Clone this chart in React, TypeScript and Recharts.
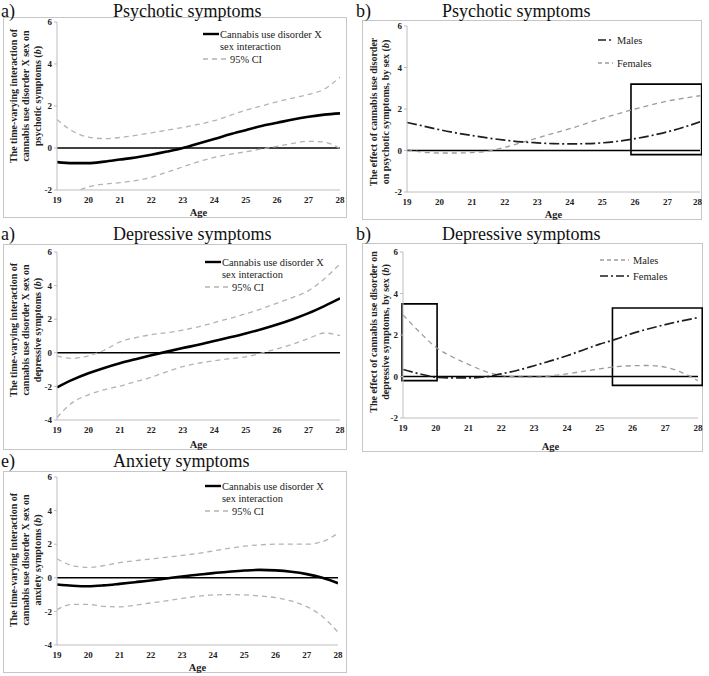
import React from "react";
import { LineChart, Line, XAxis, YAxis, ReferenceLine, ReferenceArea } from "recharts";

const FONT = "Liberation Serif, Times New Roman, Tinos, DejaVu Serif, serif";

const ages = [19, 19.5, 20, 20.5, 21, 21.5, 22, 22.5, 23, 23.5, 24, 24.5, 25, 25.5, 26, 26.5, 27, 27.5, 28];
const xTicks = [19, 20, 21, 22, 23, 24, 25, 26, 27, 28];
const ticksPsy = [-2, 0, 2, 4, 6];
const ticksDep = [-4, -2, 0, 2, 4, 6];

// a) psychotic symptoms: interaction + 95% CI
const psyInteraction = [-0.67, -0.72, -0.72, -0.65, -0.55, -0.45, -0.32, -0.17, 0.0, 0.22, 0.43, 0.65, 0.85, 1.05, 1.2, 1.36, 1.49, 1.59, 1.65];
const psyUpper = [1.36, 0.8, 0.52, 0.45, 0.5, 0.6, 0.72, 0.85, 0.98, 1.12, 1.3, 1.55, 1.8, 2.0, 2.2, 2.38, 2.55, 2.8, 3.38];
const psyLower = [-2.6, -2.15, -1.85, -1.72, -1.65, -1.55, -1.4, -1.15, -0.9, -0.65, -0.45, -0.3, -0.18, -0.05, 0.08, 0.22, 0.32, 0.28, -0.03];

// b) psychotic symptoms by sex
const psyMales = [1.35, 1.18, 1.0, 0.85, 0.72, 0.6, 0.5, 0.42, 0.37, 0.33, 0.32, 0.33, 0.37, 0.45, 0.57, 0.72, 0.9, 1.12, 1.38];
const psyFemales = [0.05, -0.08, -0.12, -0.12, -0.1, -0.03, 0.15, 0.37, 0.6, 0.83, 1.05, 1.3, 1.55, 1.78, 2.0, 2.2, 2.38, 2.52, 2.64];

// a) depressive symptoms: interaction + 95% CI
const depInteraction = [-2.06, -1.6, -1.22, -0.9, -0.62, -0.38, -0.15, 0.07, 0.28, 0.48, 0.7, 0.92, 1.15, 1.4, 1.68, 2.0, 2.36, 2.78, 3.24];
const depUpper = [-0.2, -0.33, -0.18, 0.15, 0.65, 0.9, 1.08, 1.2, 1.35, 1.55, 1.8, 2.05, 2.32, 2.62, 2.96, 3.3, 3.7, 4.4, 5.3];
const depLower = [-3.85, -2.95, -2.5, -2.2, -1.98, -1.72, -1.45, -1.12, -0.82, -0.62, -0.47, -0.35, -0.24, -0.02, 0.24, 0.52, 0.85, 1.18, 1.02];

// b) depressive symptoms by sex
const depMales = [2.97, 2.15, 1.41, 0.95, 0.58, 0.25, 0.05, -0.02, -0.03, 0.03, 0.13, 0.25, 0.37, 0.47, 0.52, 0.53, 0.45, 0.2, -0.2];
const depFemales = [0.34, 0.13, -0.03, -0.07, -0.07, -0.02, 0.13, 0.3, 0.52, 0.75, 1.0, 1.28, 1.56, 1.8, 2.08, 2.3, 2.5, 2.68, 2.84];

// e) anxiety symptoms: interaction + 95% CI
const anxInteraction = [-0.4, -0.47, -0.5, -0.45, -0.36, -0.26, -0.16, -0.04, 0.08, 0.18, 0.28, 0.36, 0.43, 0.47, 0.44, 0.36, 0.22, 0.0, -0.32];
const anxUpper = [1.13, 0.72, 0.62, 0.72, 0.9, 1.02, 1.12, 1.22, 1.33, 1.45, 1.6, 1.75, 1.88, 1.96, 2.0, 2.0, 2.0, 2.15, 2.66];
const anxLower = [-1.9, -1.58, -1.58, -1.7, -1.73, -1.63, -1.5, -1.37, -1.23, -1.1, -1.02, -1.0, -1.02, -1.08, -1.18, -1.38, -1.72, -2.3, -3.24];

// highlighted boxes in the by-sex panels
const psyBoxes = [{ x1: 25.88, x2: 28.05, y1: -0.2, y2: 3.2 }];
const depBoxes = [
  { x1: 18.97, x2: 20.04, y1: -0.2, y2: 3.5 },
  { x1: 25.39, x2: 28.13, y1: -0.43, y2: 3.3 },
];

const toRows = (cols: Record<string, number[]>) =>
  ages.map((age, i) => {
    const row: Record<string, number> = { age };
    Object.keys(cols).forEach((k) => (row[k] = cols[k][i]));
    return row;
  });

const SOLID = { stroke: "#000", strokeWidth: 2.6 };
const CI = { stroke: "#b3b3b3", strokeWidth: 1.3, strokeDasharray: "5 4" };
const DASHDOT = { stroke: "#1e1e1e", strokeWidth: 1.7, strokeDasharray: "10 3 2 3" };
const GRAYDASH = { stroke: "#9c9c9c", strokeWidth: 1.3, strokeDasharray: "5 4" };

type Frame = { x: number; y: number; w: number; h: number };
type Plot = { left: number; right: number; top: number; bottom: number };
type Box = { x1: number; x2: number; y1: number; y2: number };
type Series = { key: string; style: Record<string, unknown> };

function Panel(props: {
  frame: Frame;
  plot: Plot;
  yDomain: [number, number];
  yTicks: number[];
  rows: Record<string, number>[];
  series: Series[];
  boxes?: Box[];
}) {
  const { frame, plot, yDomain, yTicks, rows, series, boxes = [] } = props;
  const tickStyle = { fill: "#222", fontSize: 9, fontWeight: "bold", style: { fontFamily: FONT } };
  return (
    <>
      <div
        style={{
          position: "absolute",
          left: frame.x,
          top: frame.y,
          width: frame.w,
          height: frame.h,
          border: "1px solid #c6c6c6",
          boxSizing: "border-box",
        }}
      />
      <div style={{ position: "absolute", left: frame.x, top: frame.y, fontFamily: FONT }}>
        <LineChart
          width={frame.w}
          height={frame.h}
          data={rows}
          margin={{ top: plot.top, right: plot.right, bottom: 0, left: 0 }}
          style={{ fontFamily: FONT }}
        >
          <XAxis
            type="number"
            dataKey="age"
            domain={[19, 28]}
            ticks={xTicks}
            allowDataOverflow
            height={plot.bottom}
            tick={tickStyle}
            tickLine={false}
            tickMargin={1}
            axisLine={{ stroke: "#bdbdbd" }}
            label={{
              value: "Age",
              position: "insideBottom",
              offset: 2,
              fill: "#222",
              fontSize: 10.5,
              fontWeight: "bold",
              style: { fontFamily: FONT },
            }}
          />
          <YAxis
            type="number"
            domain={yDomain}
            ticks={yTicks}
            allowDataOverflow
            width={plot.left}
            tick={tickStyle}
            tickSize={3}
            tickMargin={2}
            tickLine={{ stroke: "#bdbdbd" }}
            axisLine={{ stroke: "#bdbdbd" }}
          />
          <ReferenceLine y={0} stroke="#000" strokeWidth={1.5} />
          {boxes.map((b, i) => (
            <ReferenceArea
              key={i}
              x1={b.x1}
              x2={b.x2}
              y1={b.y1}
              y2={b.y2}
              ifOverflow="visible"
              fill="none"
              fillOpacity={0}
              stroke="#000"
              strokeWidth={1.6}
            />
          ))}
          {series.map((s) => (
            <Line
              key={s.key}
              dataKey={s.key}
              type="monotone"
              dot={false}
              activeDot={false}
              isAnimationActive={false}
              {...s.style}
            />
          ))}
        </LineChart>
      </div>
    </>
  );
}

function YLabel({ x, y, lines }: { x: number; y: number; lines: React.ReactNode[] }) {
  return (
    <>
      {lines.map((ln, i) => (
        <text
          key={i}
          transform={`translate(${x + i * 12},${y}) rotate(-90)`}
          textAnchor="middle"
          style={{ fontFamily: FONT, fontSize: 10, fontWeight: "bold" }}
          fill="#222"
        >
          {ln}
        </text>
      ))}
    </>
  );
}

const bItalic = (
  <>
    (<tspan fontStyle="italic">b</tspan>)
  </>
);

function InteractionLegend({ x, y }: { x: number; y: number }) {
  return (
    <g style={{ fontFamily: FONT, fontSize: 10.4 }} fill="#222">
      <line x1={x} x2={x + 16} y1={y} y2={y} stroke="#000" strokeWidth={2.4} />
      <text x={x + 17} y={y + 3.5}>Cannabis use disorder X</text>
      <text x={x + 17} y={y + 15.5}>sex interaction</text>
      <line x1={x} x2={x + 23} y1={y + 25} y2={y + 25} stroke="#b3b3b3" strokeWidth={1.3} strokeDasharray="5 4" />
      <text x={x + 27} y={y + 28.5}>95% CI</text>
    </g>
  );
}

function SexLegend(props: { x: number; y: number; gap: number; textX: number; first: string; second: string; firstDashDot: boolean }) {
  const { x, y, gap, textX, first, second, firstDashDot } = props;
  const dd = { stroke: "#1e1e1e", strokeWidth: 1.7, strokeDasharray: "8 3 2 3" };
  const gd = { stroke: "#9c9c9c", strokeWidth: 1.3, strokeDasharray: "4 3" };
  return (
    <g style={{ fontFamily: FONT, fontSize: 10.4 }} fill="#222">
      <line x1={x} x2={textX - 4} y1={y} y2={y} {...(firstDashDot ? dd : gd)} />
      <text x={textX} y={y + 3.5}>{first}</text>
      <line x1={x} x2={textX - 4} y1={y + gap} y2={y + gap} {...(firstDashDot ? gd : dd)} />
      <text x={textX} y={y + gap + 3.5}>{second}</text>
    </g>
  );
}

export default function App() {
  const titleStyle = { style: { fontFamily: FONT, fontSize: 18 }, fill: "#111" };
  return (
    <div style={{ position: "absolute", left: 0, top: 0, width: 709, height: 676, background: "#fff", overflow: "hidden", fontFamily: FONT }}>
      <Panel
        frame={{ x: 3, y: 17, w: 344, h: 201 }}
        plot={{ left: 54, right: 7, top: 5, bottom: 28 }}
        yDomain={[-2, 6]}
        yTicks={ticksPsy}
        rows={toRows({ main: psyInteraction, upper: psyUpper, lower: psyLower })}
        series={[
          { key: "upper", style: CI },
          { key: "lower", style: CI },
          { key: "main", style: SOLID },
        ]}
      />
      <Panel
        frame={{ x: 362, y: 20, w: 340, h: 200 }}
        plot={{ left: 45, right: 2, top: 6, bottom: 28 }}
        yDomain={[-2, 6]}
        yTicks={ticksPsy}
        rows={toRows({ males: psyMales, females: psyFemales })}
        series={[
          { key: "females", style: GRAYDASH },
          { key: "males", style: DASHDOT },
        ]}
        boxes={psyBoxes}
      />
      <Panel
        frame={{ x: 3, y: 244, w: 344, h: 206 }}
        plot={{ left: 54, right: 7, top: 8, bottom: 30 }}
        yDomain={[-4, 6]}
        yTicks={ticksDep}
        rows={toRows({ main: depInteraction, upper: depUpper, lower: depLower })}
        series={[
          { key: "upper", style: CI },
          { key: "lower", style: CI },
          { key: "main", style: SOLID },
        ]}
      />
      <Panel
        frame={{ x: 362, y: 243, w: 341, h: 209 }}
        plot={{ left: 41, right: 5, top: 9, bottom: 34 }}
        yDomain={[-2, 6]}
        yTicks={ticksPsy}
        rows={toRows({ males: depMales, females: depFemales })}
        series={[
          { key: "males", style: GRAYDASH },
          { key: "females", style: DASHDOT },
        ]}
        boxes={depBoxes}
      />
      <Panel
        frame={{ x: 3, y: 471, w: 344, h: 202 }}
        plot={{ left: 54, right: 9, top: 6, bottom: 28 }}
        yDomain={[-4, 6]}
        yTicks={ticksDep}
        rows={toRows({ main: anxInteraction, upper: anxUpper, lower: anxLower })}
        series={[
          { key: "upper", style: CI },
          { key: "lower", style: CI },
          { key: "main", style: SOLID },
        ]}
      />
      <svg width={709} height={676} style={{ position: "absolute", left: 0, top: 0, pointerEvents: "none" }}>
        <text x={1} y={16.5} {...titleStyle}>a)</text>
        <text x={113} y={16.5} {...titleStyle}>Psychotic symptoms</text>
        <text x={356} y={16.5} {...titleStyle}>b)</text>
        <text x={442} y={16.5} {...titleStyle}>Psychotic symptoms</text>
        <text x={1} y={240} {...titleStyle}>a)</text>
        <text x={113} y={240} {...titleStyle}>Depressive symptoms</text>
        <text x={356} y={240} {...titleStyle}>b)</text>
        <text x={442} y={240} {...titleStyle}>Depressive symptoms</text>
        <text x={1} y={467} {...titleStyle}>e)</text>
        <text x={113} y={467} {...titleStyle}>Anxiety symptoms</text>

        <YLabel
          x={16.5}
          y={96}
          lines={["The time-varying interaction of", "cannabis use disorder X sex on", <>psychotic symptoms {bItalic}</>]}
        />
        <YLabel
          x={376.5}
          y={112}
          lines={["The effect  of cannabis use disorder", <>on psychotic symptoms, by sex {bItalic}</>]}
        />
        <YLabel
          x={16.5}
          y={330}
          lines={["The time-varying interaction of", "cannabis use disorder X sex on", <>depressive symptoms {bItalic}</>]}
        />
        <YLabel
          x={376.5}
          y={332}
          lines={["The effect  of cannabis use disorder on", <>depressive symptoms, by sex {bItalic}</>]}
        />
        <YLabel
          x={16.5}
          y={560}
          lines={["The time-varying interaction of", "cannabis use disorder X sex on", <>anxiety symptoms {bItalic}</>]}
        />

        <InteractionLegend x={203} y={34} />
        <InteractionLegend x={205} y={262} />
        <InteractionLegend x={205} y={486} />
        <SexLegend x={598} y={40} gap={23} textX={617} first="Males" second="Females" firstDashDot={true} />
        <SexLegend x={600} y={260} gap={16} textX={633} first="Males" second="Females" firstDashDot={false} />
      </svg>
    </div>
  );
}
